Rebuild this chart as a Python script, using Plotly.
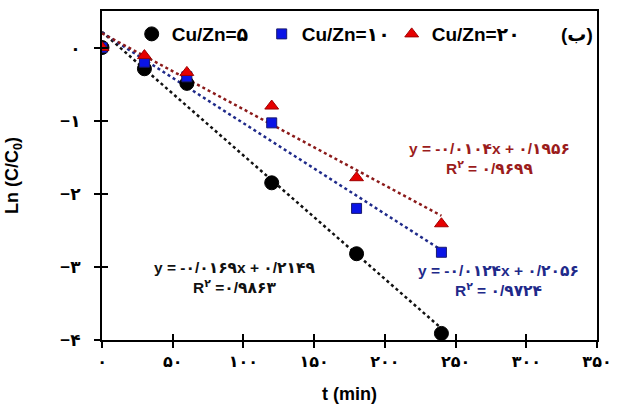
import plotly.graph_objects as go

# ---- data ----
t_min = [0, 30, 60, 120, 180, 240]
ln_5 = [0.0, -0.29, -0.49, -1.85, -2.82, -3.91]
ln_10 = [0.0, -0.20, -0.40, -1.03, -2.20, -2.80]
ln_20 = [0.0, -0.11, -0.34, -0.80, -1.78, -2.41]

series_names = ["Cu/Zn=۵", "Cu/Zn=۱۰", "Cu/Zn=۲۰"]
fit_slopes = [-0.0169, -0.0124, -0.0104]
fit_intercepts = [0.2149, 0.2056, 0.1956]
fit_eq = ["y = -۰/۰۱۶۹x + ۰/۲۱۴۹", "y = -۰/۰۱۲۴x + ۰/۲۰۵۶", "y = -۰/۰۱۰۴x + ۰/۱۹۵۶"]
fit_r2 = ["R<sup>۲</sup> =۰/۹۸۶۳", "R<sup>۲</sup> = ۰/۹۷۲۴", "R<sup>۲</sup> = ۰/۹۶۹۹"]
fit_range = [0, 240]
# label centre points (axis units) of the two-line fit labels
lab_x = [94, 280, 274]
lab_y = [-3.14, -3.19, -1.52]

x_ticks = [0, 50, 100, 150, 200, 250, 300, 350]
x_ticktext = ["۰", "۵۰", "۱۰۰", "۱۵۰", "۲۰۰", "۲۵۰", "۳۰۰", "۳۵۰"]
y_ticks = [0, -1, -2, -3, -4]
y_ticktext = ["۰", "−۱", "−۲", "−۳", "−۴"]

FONT = "Arial, 'Liberation Sans', 'DejaVu Sans', sans-serif"

marker_colors = ["black", "#0a14e6", "#e60000"]
marker_lines = ["black", "#1a1a70", "#a00000"]
symbols = ["circle", "square", "triangle-up"]
sizes = [14, 10, 12]
line_colors = ["#111111", "#1f2a8a", "#8b1a1a"]
text_colors = ["#111111", "#1f2a8a", "#9b1c1c"]

fig = go.Figure()

ys = [ln_5, ln_10, ln_20]
for i in range(3):
    xs = fit_range
    yfit = [fit_slopes[i] * x + fit_intercepts[i] for x in xs]
    fig.add_trace(go.Scatter(x=xs, y=yfit, mode="lines", showlegend=False,
                             line=dict(color=line_colors[i], width=2.5, dash="dot"),
                             hoverinfo="skip"))

for i in range(3):
    fig.add_trace(go.Scatter(x=t_min, y=ys[i], mode="markers", name="<b>" + series_names[i] + "</b>",
                             marker=dict(symbol=symbols[i], size=sizes[i], color=marker_colors[i],
                                         line=dict(color=marker_lines[i], width=1))))

anns = []
for i in range(3):
    anns.append(dict(x=lab_x[i], y=lab_y[i], xref="x", yref="y",
                     text="<b>" + fit_eq[i] + "<br>" + fit_r2[i] + "</b>", align="center",
                     showarrow=False, font=dict(family=FONT, size=15.5, color=text_colors[i])))
anns.append(dict(x=0.995, y=0.93, xref="paper", yref="paper", xanchor="right", yanchor="middle",
                 text="<b>(ب)</b>", showarrow=False, font=dict(family=FONT, size=19, color="black")))

axis_common = dict(showline=True, linecolor="black", linewidth=2, showgrid=False, zeroline=False,
                   mirror=True)

fig.update_layout(
    width=621, height=410,
    margin=dict(l=102, r=17, t=9, b=70),
    paper_bgcolor="white", plot_bgcolor="white",
    font=dict(family=FONT, color="black"),
    xaxis=dict(range=[0, 350], tickvals=x_ticks, ticktext=["<b>" + s + "</b>" for s in x_ticktext],
               ticks="outside", ticklen=6, tickwidth=1.5, tickcolor="black",
               tickfont=dict(size=16, family=FONT),
               title=dict(text="<b>t (min)</b>", font=dict(size=18, family=FONT), standoff=18),
               **axis_common),
    yaxis=dict(range=[-4, 0.5], tickvals=y_ticks, ticktext=["<b>" + s + "</b>" for s in y_ticktext],
               ticks="outside", ticklen=6, tickwidth=1.5, tickcolor="black",
               tickfont=dict(size=17, family=FONT), ticklabelstandoff=10,
               title=dict(text="<b>Ln (C/C<sub>0</sub>)</b>", font=dict(size=18, family=FONT), standoff=37),
               **axis_common),
    xaxis2=dict(overlaying="x", matches="x", range=[0, 350], tickvals=x_ticks, showticklabels=False,
                ticks="inside", ticklen=6, tickwidth=1.5, tickcolor="black", showline=False,
                showgrid=False, zeroline=False, side="bottom", anchor="y"),
    yaxis2=dict(overlaying="y", matches="y", range=[-4, 0.5], tickvals=y_ticks, showticklabels=False,
                ticks="inside", ticklen=6, tickwidth=1.5, tickcolor="black", showline=False,
                showgrid=False, zeroline=False, side="left", anchor="x"),
    legend=dict(orientation="h", x=0.06, y=0.93, xanchor="left", yanchor="middle",
                bgcolor="rgba(0,0,0,0)", font=dict(size=19, family=FONT),
                itemwidth=30, entrywidth=85, tracegroupgap=0),
    annotations=anns,
    showlegend=True,
)

fig.add_trace(go.Scatter(x=[None], y=[None], xaxis="x2", yaxis="y2", showlegend=False, hoverinfo="skip"))

fig.write_html("out.html")
